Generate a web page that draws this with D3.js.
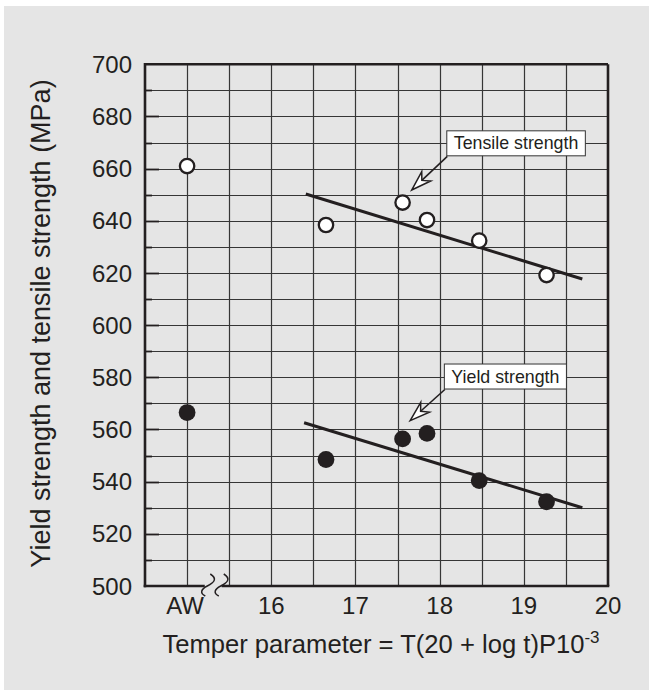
<!DOCTYPE html>
<html>
<head>
<meta charset="utf-8">
<script src="https://cdn.jsdelivr.net/npm/d3@7"></script>
<style>
  html, body { margin: 0; padding: 0; background: #ffffff; }
  svg { display: block; font-family: "Liberation Sans", Arial, Helvetica, sans-serif; }
</style>
</head>
<body>
<svg id="chart" width="649" height="695"></svg>
<script>
// ---------------- data ----------------
const xTickValues = [15, 16, 17, 18, 19, 20];
const xTickLabels = ["AW", "16", "17", "18", "19", "20"];
const yTickValues = [500, 520, 540, 560, 580, 600, 620, 640, 660, 680, 700];

const pointX      = [15, 16.65, 17.56, 17.85, 18.47, 19.27];
const tensileY    = [661, 638.4, 647, 640.3, 632.4, 619.2];
const yieldY      = [566.5, 548.5, 556.4, 558.5, 540.4, 532.3];

const tensileFitX = [16.41, 19.695];
const tensileFitY = [650.3, 617.7];
const yieldFitX   = [16.39, 19.695];
const yieldFitY   = [562.6, 530.0];

const seriesNames = ["Tensile strength", "Yield strength"];

// ---------------- layout ----------------
const svg = d3.select("#chart");
const ink = "#231f20";
const grid = "#363636";

svg.append("rect").attr("x", 4).attr("y", 6).attr("width", 645).attr("height", 684).attr("fill", "#e5e5e5");

const x = d3.scaleLinear().domain([14.5, 20]).range([145, 608]);
const y = d3.scaleLinear().domain([500, 700]).range([586, 64.3]);

const g = svg.append("g");

// gridlines
const vGrid = d3.range(15, 20, 0.5);
const hGrid = d3.range(510, 700, 10);
g.selectAll("line.vg").data(vGrid).join("line")
  .attr("x1", d => Math.round(x(d)) + 0.5).attr("x2", d => Math.round(x(d)) + 0.5)
  .attr("y1", y(700)).attr("y2", y(500))
  .attr("stroke", grid).attr("stroke-width", 1.2);
g.selectAll("line.hg").data(hGrid).join("line")
  .attr("y1", d => Math.round(y(d)) + 0.5).attr("y2", d => Math.round(y(d)) + 0.5)
  .attr("x1", x(14.5)).attr("x2", x(20))
  .attr("stroke", grid).attr("stroke-width", 1.2);

// left ticks (inside): major at labels, minor between
g.selectAll("line.ytk").data(d3.range(510, 700, 10)).join("line")
  .attr("y1", d => Math.round(y(d)) + 0.5).attr("y2", d => Math.round(y(d)) + 0.5)
  .attr("x1", x(14.5)).attr("x2", d => x(14.5) + (d % 20 === 0 ? 14 : 7))
  .attr("stroke", ink).attr("stroke-width", 1.8);

// frame: top & right
g.append("line").attr("x1", x(14.5)).attr("x2", x(20)).attr("y1", y(700)).attr("y2", y(700))
  .attr("stroke", ink).attr("stroke-width", 2.6);
g.append("line").attr("x1", x(20)).attr("x2", x(20)).attr("y1", y(700)).attr("y2", y(500))
  .attr("stroke", ink).attr("stroke-width", 2.6);
// left axis
g.append("line").attr("x1", x(14.5)).attr("x2", x(14.5)).attr("y1", y(700) - 1.3).attr("y2", y(500) + 1.3)
  .attr("stroke", ink).attr("stroke-width", 2.6);
// bottom axis with break
const breakL = 15.21, breakR = 15.41;
g.append("line").attr("x1", x(14.5) - 1.3).attr("x2", x(breakL)).attr("y1", y(500)).attr("y2", y(500))
  .attr("stroke", ink).attr("stroke-width", 2.6);
g.append("line").attr("x1", x(breakR)).attr("x2", x(20) + 1.3).attr("y1", y(500)).attr("y2", y(500))
  .attr("stroke", ink).attr("stroke-width", 2.6);
// break squiggles
[breakL + 0.03, breakR - 0.01].forEach(b => {
  const cx = x(b), cy = y(500);
  const p = d3.path();
  p.moveTo(cx + 3, cy - 12);
  p.bezierCurveTo(cx + 11, cy - 7, cx + 6, cy - 3, cx, cy);
  p.bezierCurveTo(cx - 6, cy + 3, cx - 8, cy + 7, cx - 2, cy + 10);
  g.append("path").attr("d", p.toString()).attr("fill", "none").attr("stroke", ink).attr("stroke-width", 1.5);
});

// y tick labels
g.selectAll("text.yl").data(yTickValues).join("text")
  .attr("x", 132).attr("y", d => y(d)).attr("dy", "0.36em")
  .attr("text-anchor", "end").attr("font-size", 24).attr("fill", ink)
  .text(d => d);
// x tick labels
g.selectAll("text.xl").data(xTickValues).join("text")
  .attr("x", d => x(d) - (d === 15 ? 2 : 0)).attr("y", 613.5)
  .attr("text-anchor", "middle").attr("font-size", 24).attr("fill", ink)
  .text((d, i) => xTickLabels[i]);

// axis titles
const xt = g.append("text").attr("x", 381).attr("y", 653).attr("text-anchor", "middle")
  .attr("font-size", 25.6).attr("fill", ink);
xt.append("tspan").text("Temper parameter = T(20 + log t)P10");
xt.append("tspan").attr("dy", -10).attr("font-size", 17).text("-3");

g.append("text").attr("transform", "translate(50,323.5) rotate(-90)")
  .attr("text-anchor", "middle").attr("font-size", 27).attr("fill", ink)
  .text("Yield strength and tensile strength (MPa)");

// trend lines
const line = d3.line().x(d => x(d[0])).y(d => y(d[1]));
g.append("path").attr("d", line(d3.zip(tensileFitX, tensileFitY)))
  .attr("fill", "none").attr("stroke", ink).attr("stroke-width", 3);
g.append("path").attr("d", line(d3.zip(yieldFitX, yieldFitY)))
  .attr("fill", "none").attr("stroke", ink).attr("stroke-width", 3);

// points
g.selectAll("circle.t").data(d3.zip(pointX, tensileY)).join("circle")
  .attr("cx", d => x(d[0])).attr("cy", d => y(d[1])).attr("r", 7.2)
  .attr("fill", "#ffffff").attr("stroke", ink).attr("stroke-width", 2.3);
g.selectAll("circle.y").data(d3.zip(pointX, yieldY)).join("circle")
  .attr("cx", d => x(d[0])).attr("cy", d => y(d[1])).attr("r", 8.4)
  .attr("fill", ink);

// callouts
const callouts = [
  { text: seriesNames[0], bx: 18.085, by: 674.5, tx: 17.668, ty: 651.8 },
  { text: seriesNames[1], bx: 18.056, by: 585.1, tx: 17.65,  ty: 563.4 }
];
callouts.forEach(c => {
  const left = x(c.bx), top = y(c.by);
  const grp = g.append("g");
  const rect = grp.append("rect");
  const t = grp.append("text").attr("x", left + 7).attr("y", top + 18.6)
    .attr("font-size", 17.8).attr("fill", ink).text(c.text);
  const w = t.node().getComputedTextLength() + 14;
  rect.attr("x", left).attr("y", top).attr("width", w).attr("height", 25)
    .attr("fill", "#ffffff").attr("stroke", "#333").attr("stroke-width", 1);
  // arrow
  const sx = left + 0.5, sy = top + 25.5;
  const ex = x(c.tx), ey = y(c.ty);
  const ang = Math.atan2(ey - sy, ex - sx);
  const L = 20, W = 6.5, N = 14;
  const cos = Math.cos(ang), sin = Math.sin(ang);
  const pt = (a, b) => [ex + a * cos - b * sin, ey + a * sin + b * cos];
  const notch = pt(-N, 0);
  grp.append("line").attr("x1", sx).attr("y1", sy).attr("x2", notch[0]).attr("y2", notch[1])
    .attr("stroke", ink).attr("stroke-width", 1.6);
  const head = [pt(0, 0), pt(-L, -W), notch, pt(-L, W)];
  grp.append("path").attr("d", "M" + head.map(p => p.join(",")).join("L") + "Z")
    .attr("fill", "#ffffff").attr("stroke", ink).attr("stroke-width", 1.5).attr("stroke-linejoin", "miter");
});
</script>
</body>
</html>
